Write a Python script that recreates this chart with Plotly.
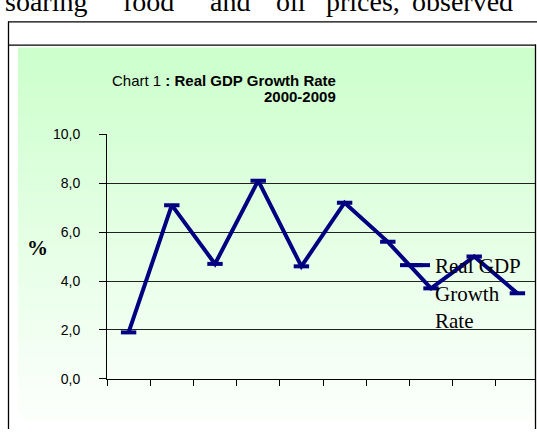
import plotly.graph_objects as go

W, H = 537, 437

years = ["2000", "2001", "2002", "2003", "2004", "2005", "2006", "2007", "2008", "2009"]
gdp_growth = [1.9, 7.1, 4.7, 8.1, 4.6, 7.2, 5.6, 3.7, 5.0, 3.5]
series_name = "Real GDP<br>Growth<br>Rate"
y_ticks = [0, 2, 4, 6, 8, 10]

def px_x(x):
    return x / W

def px_y(y):
    return 1 - y / H

fig = go.Figure()
fig.add_trace(go.Scatter(
    x=years, y=gdp_growth, name=series_name, mode="lines+markers",
    line=dict(color="#000080", width=4),
    marker=dict(symbol="line-ew", size=11, color="#000080",
                line=dict(color="#000080", width=4)),
    showlegend=True,
))

shapes = []
# gradient background strips
top_c = (204, 255, 204)
bot_c = (252, 255, 252)
y0, y1 = 41, 427
n = 60
for i in range(n):
    t = i / (n - 1)
    c = tuple(round(top_c[k] + (bot_c[k] - top_c[k]) * t) for k in range(3))
    ya = y0 + (y1 - y0) * i / n
    yb = y0 + (y1 - y0) * (i + 1) / n + 0.5
    shapes.append(dict(type="rect", xref="paper", yref="paper",
                       x0=px_x(18), x1=px_x(535), y0=px_y(yb), y1=px_y(ya),
                       fillcolor="rgb(%d,%d,%d)" % c, line=dict(width=0), layer="below"))
# frame lines
frame = dict(color="#000000", width=1.3)
shapes += [
    dict(type="line", xref="paper", yref="paper", x0=px_x(8), x1=px_x(537), y0=px_y(14.5), y1=px_y(14.5), line=frame),
    dict(type="line", xref="paper", yref="paper", x0=px_x(8.5), x1=px_x(8.5), y0=px_y(14), y1=px_y(437), line=frame),
    dict(type="line", xref="paper", yref="paper", x0=px_x(8), x1=px_x(536), y0=px_y(38.5), y1=px_y(38.5), line=frame),
    dict(type="line", xref="paper", yref="paper", x0=px_x(535.5), x1=px_x(535.5), y0=px_y(38), y1=px_y(437), line=frame),
]

annotations = [
    dict(text="Chart 1 <b>: Real GDP Growth Rate</b>", xref="paper", yref="paper",
         x=px_x(338), y=px_y(75), xanchor="right", yanchor="middle", showarrow=False,
         font=dict(family="Liberation Sans", size=15, color="#000")),
    dict(text="<b>2000-2009</b>", xref="paper", yref="paper",
         x=px_x(338), y=px_y(92), xanchor="right", yanchor="middle", showarrow=False,
         font=dict(family="Liberation Sans", size=15, color="#000")),
    dict(text="<b>%</b>", xref="paper", yref="paper",
         x=px_x(37), y=px_y(249), xanchor="center", yanchor="middle", showarrow=False,
         font=dict(family="Liberation Serif", size=21, color="#000")),
]
words = [("soaring", 46), ("food", 148), ("and", 230), ("oil", 291), ("prices,", 363), ("observed", 462)]
for w, cx in words:
    annotations.append(dict(text=w, xref="paper", yref="paper", x=px_x(cx), y=px_y(11),
                            xanchor="center", yanchor="bottom", showarrow=False,
                            font=dict(family="Liberation Serif", size=28, color="#000")))

fig.update_layout(
    width=W, height=H, margin=dict(l=0, r=0, t=0, b=0),
    paper_bgcolor="white", plot_bgcolor="rgba(0,0,0,0)",
    separators=",.",
    shapes=shapes, annotations=annotations,
    xaxis=dict(domain=[px_x(107), px_x(535)], type="category",
               range=[-0.5, 9.5 - 4 / 43.2], showticklabels=False,
               ticks="outside", tickson="boundaries", ticklen=6, tickcolor="#000",
               showline=True, linecolor="#000", linewidth=1, showgrid=False,
               zeroline=False, fixedrange=True),
    yaxis=dict(domain=[px_y(385), px_y(131)], range=[0, 10], tickvals=y_ticks,
               tickformat=".1f", ticks="outside", ticklen=7, tickcolor="#000",
               showline=True, linecolor="#000", linewidth=1,
               showgrid=True, gridcolor="#222", gridwidth=1, zeroline=False,
               ticklabelstandoff=16,
               tickfont=dict(family="Liberation Sans", size=14, color="#000")),
    legend=dict(x=px_x(395), y=px_y(246), xanchor="left", yanchor="top",
                bgcolor="rgba(0,0,0,0)", valign="top",
                font=dict(family="Liberation Serif", size=21, color="#000")),
)

fig.write_html("out.html")
